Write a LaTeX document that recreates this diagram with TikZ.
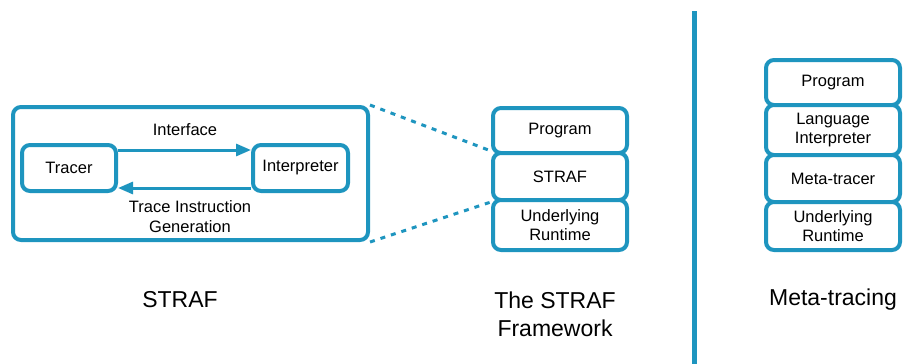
\documentclass[tikz,border=0pt]{standalone}
\usepackage{fontspec}
\setmainfont{Liberation Sans}
\usetikzlibrary{arrows.meta}
\definecolor{tealc}{HTML}{1E95BF}
\begin{document}
\begin{tikzpicture}[x=1pt,y=-1pt,
  box/.style={draw=tealc,line width=4pt,rounded corners=8pt,fill=white,inner sep=0pt,align=center,font=\fontsize{16.5}{19}\selectfont},
  lbl/.style={align=center,font=\fontsize{16.5}{20}\selectfont},
  big/.style={align=center,font=\fontsize{23}{28}\selectfont},
  arr/.style={draw=tealc,line width=3pt,-{Triangle[length=15pt,width=12pt]}},
  dashline/.style={draw=tealc,line width=3pt,dash pattern=on 5pt off 6pt}]
\useasboundingbox (0,0) rectangle (905,364);
% left panel
\node[box,minimum width=355pt,minimum height=133pt] (outer) at (190.5,173.5) {};
\node[box,minimum width=94pt,minimum height=46pt] (tracer) at (69,168) {Tracer};
\node[box,minimum width=95pt,minimum height=46pt] (interp) at (300.5,168) {Interpreter};
\draw[arr] ([yshift=18pt]tracer.east) -- ([yshift=18pt]interp.west);
\draw[arr] ([yshift=-20pt]interp.west) -- ([yshift=-20pt]tracer.east);
\node[lbl] (iface) at (185,130) {Interface};
\node[lbl] (tig) at (190,217) {Trace Instruction\\Generation};
\node[big] (lstraf) at (180,300) {STRAF};
% middle stack
\node[box,minimum width=134pt,minimum height=45pt] (prog) at (560,130.5) {Program};
\node[box,minimum width=134pt,minimum height=47pt] (straf) at (560,176.5) {STRAF};
\node[box,minimum width=134pt,minimum height=50pt] (urt) at (560,225) {Underlying\\Runtime};
\draw[dashline] (outer.north east) -- (straf.north west);
\draw[dashline] (outer.south east) -- (straf.south west);
\node[big] (fw) at (555,314) {The STRAF\\Framework};
% divider
\coordinate (vtop) at (694,11);
\coordinate (vbot) at (694,364);
\draw[tealc,line width=5pt] (vtop) -- (vbot);
% right stack
\node[box,minimum width=134pt,minimum height=45pt] (rprog) at (833,82.5) {Program};
\node[box,minimum width=134pt,minimum height=50pt] (rli) at (833,130) {Language\\Interpreter};
\node[box,minimum width=134pt,minimum height=47pt] (rmt) at (833,178.5) {Meta-tracer};
\node[box,minimum width=134pt,minimum height=48pt] (rurt) at (833,226) {Underlying\\Runtime};
\node[big] (mt) at (833,300) {Meta-tracing};
\end{tikzpicture}
\end{document}
